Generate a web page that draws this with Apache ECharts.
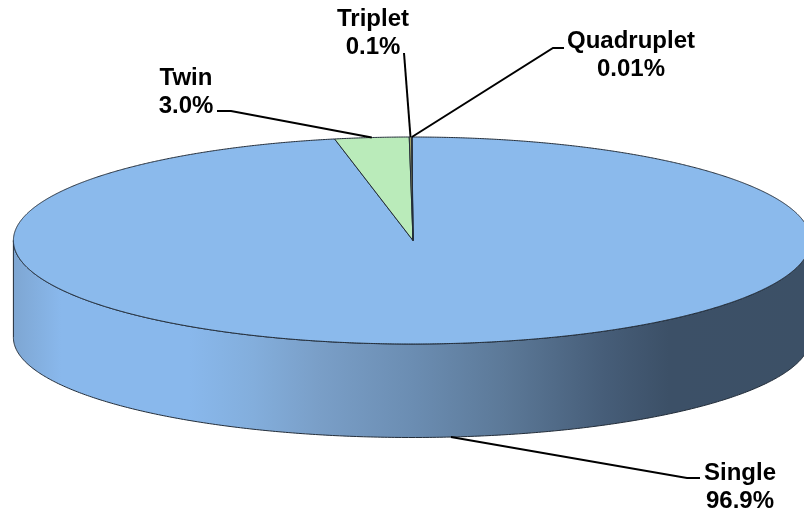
<!DOCTYPE html>
<html>
<head>
<meta charset="utf-8">
<style>
  html, body { margin: 0; padding: 0; background: #fff; }
  #main { width: 804px; height: 516px; }
</style>
</head>
<body>
<div id="main"></div>
<script src="https://cdn.jsdelivr.net/npm/echarts@6/dist/echarts.min.js"></script>
<script>
const categories = ['Single', 'Twin', 'Triplet', 'Quadruplet']
const shares = [96.9, 3.0, 0.1, 0.01]
const shareLabels = ['96.9%', '3.0%', '0.1%', '0.01%']
const topColors = ['#8bbaec', '#baebba', '#a3a36a', '#b08a50']

// pie is drawn by hand since echarts has no tilted 3d pie
const cx = 412, cy = 240.5, rx = 398.6, ry = 103.5
// bottom rim of the wall is a little flatter than the top one
const wallDrop = 97, wallRy = 100
const font = 'bold 24px "Liberation Sans", Arial, sans-serif'
const total = shares.reduce((a, b) => a + b, 0)

// label box centre and the leader bend, one per category
const labelPos = [[740, 459], [186, 64], [373, 5], [631, 27]]
const leaderBend = [
  [[700, 478], [687, 478]],
  [[217, 111], [231, 111]],
  [[404, 53]],
  [[564, 48], [553, 48]]
]

// angle in degrees, clockwise from the top of the pie
const rimPoint = (deg) => {
  const a = deg * Math.PI / 180
  return [cx + rx * Math.sin(a), cy - ry * Math.cos(a)]
}
const wallPoint = (deg) => {
  const a = deg * Math.PI / 180
  return [cx + rx * Math.sin(a), cy + wallDrop - wallRy * Math.cos(a)]
}

const wallFill = new echarts.graphic.LinearGradient(13, 0, 813, 0, [
  { offset: 0, color: '#7ea6d2' },
  { offset: 0.06, color: '#89b8ec' },
  { offset: 0.22, color: '#89b8ec' },
  { offset: 0.3, color: '#83aedc' },
  { offset: 0.38, color: '#7a9fc8' },
  { offset: 0.5, color: '#6b8db2' },
  { offset: 0.614, color: '#5c7998' },
  { offset: 0.74, color: '#465d78' },
  { offset: 0.82, color: '#3c5067' },
  { offset: 1, color: '#3c5066' }
], true)

const renderSlice = (params, api) => {
  const i = params.dataIndex
  const before = shares.slice(0, i).reduce((a, b) => a + b, 0)
  const start = before / total * 360
  const end = start + api.value(0) / total * 360
  const mid = (start + end) / 2
  const children = []

  // side wall, only the part of the slice facing the viewer
  const wallStart = Math.max(start, 90)
  const wallEnd = Math.min(end, 270)
  if (wallEnd > wallStart) {
    const upper = [], lower = []
    for (let d = wallStart; d < wallEnd; d += 0.5) {
      upper.push(rimPoint(d))
      lower.push(wallPoint(d))
    }
    upper.push(rimPoint(wallEnd))
    lower.push(wallPoint(wallEnd))
    children.push({
      type: 'polygon',
      shape: { points: upper.concat(lower.reverse()) },
      style: { fill: wallFill, stroke: '#222c38', lineWidth: 1 }
    })
  }

  // top face
  const face = [[cx + 1, cy]]
  for (let d = start; d < end; d += 0.25) face.push(rimPoint(d))
  face.push(rimPoint(end))
  children.push({
    type: 'polygon',
    shape: { points: face },
    style: { fill: topColors[i], stroke: '#222c38', lineWidth: 1 }
  })

  // leader line, single's starts on the bottom rim of the wall
  const anchor = i === 0 ? wallPoint(mid) : rimPoint(mid)
  children.push({
    type: 'polyline',
    shape: { points: leaderBend[i].concat([anchor]) },
    style: { fill: null, stroke: '#000', lineWidth: 2 },
    z2: 5
  })
  children.push({
    type: 'text',
    x: labelPos[i][0],
    y: labelPos[i][1],
    style: {
      text: categories[i] + '\n' + shareLabels[i],
      font: font,
      lineHeight: 28,
      fill: '#000',
      align: 'center',
      verticalAlign: 'top'
    },
    z2: 6
  })
  return { type: 'group', children: children }
}

const chartDom = document.getElementById('main')
const myChart = echarts.init(chartDom)
const option = {
  animation: false,
  series: [
    {
      type: 'custom',
      coordinateSystem: 'none',
      clip: false,
      data: shares.map((v, i) => ({ name: categories[i], value: [v] })),
      renderItem: renderSlice
    }
  ]
}
myChart.setOption(option)
</script>
</body>
</html>
